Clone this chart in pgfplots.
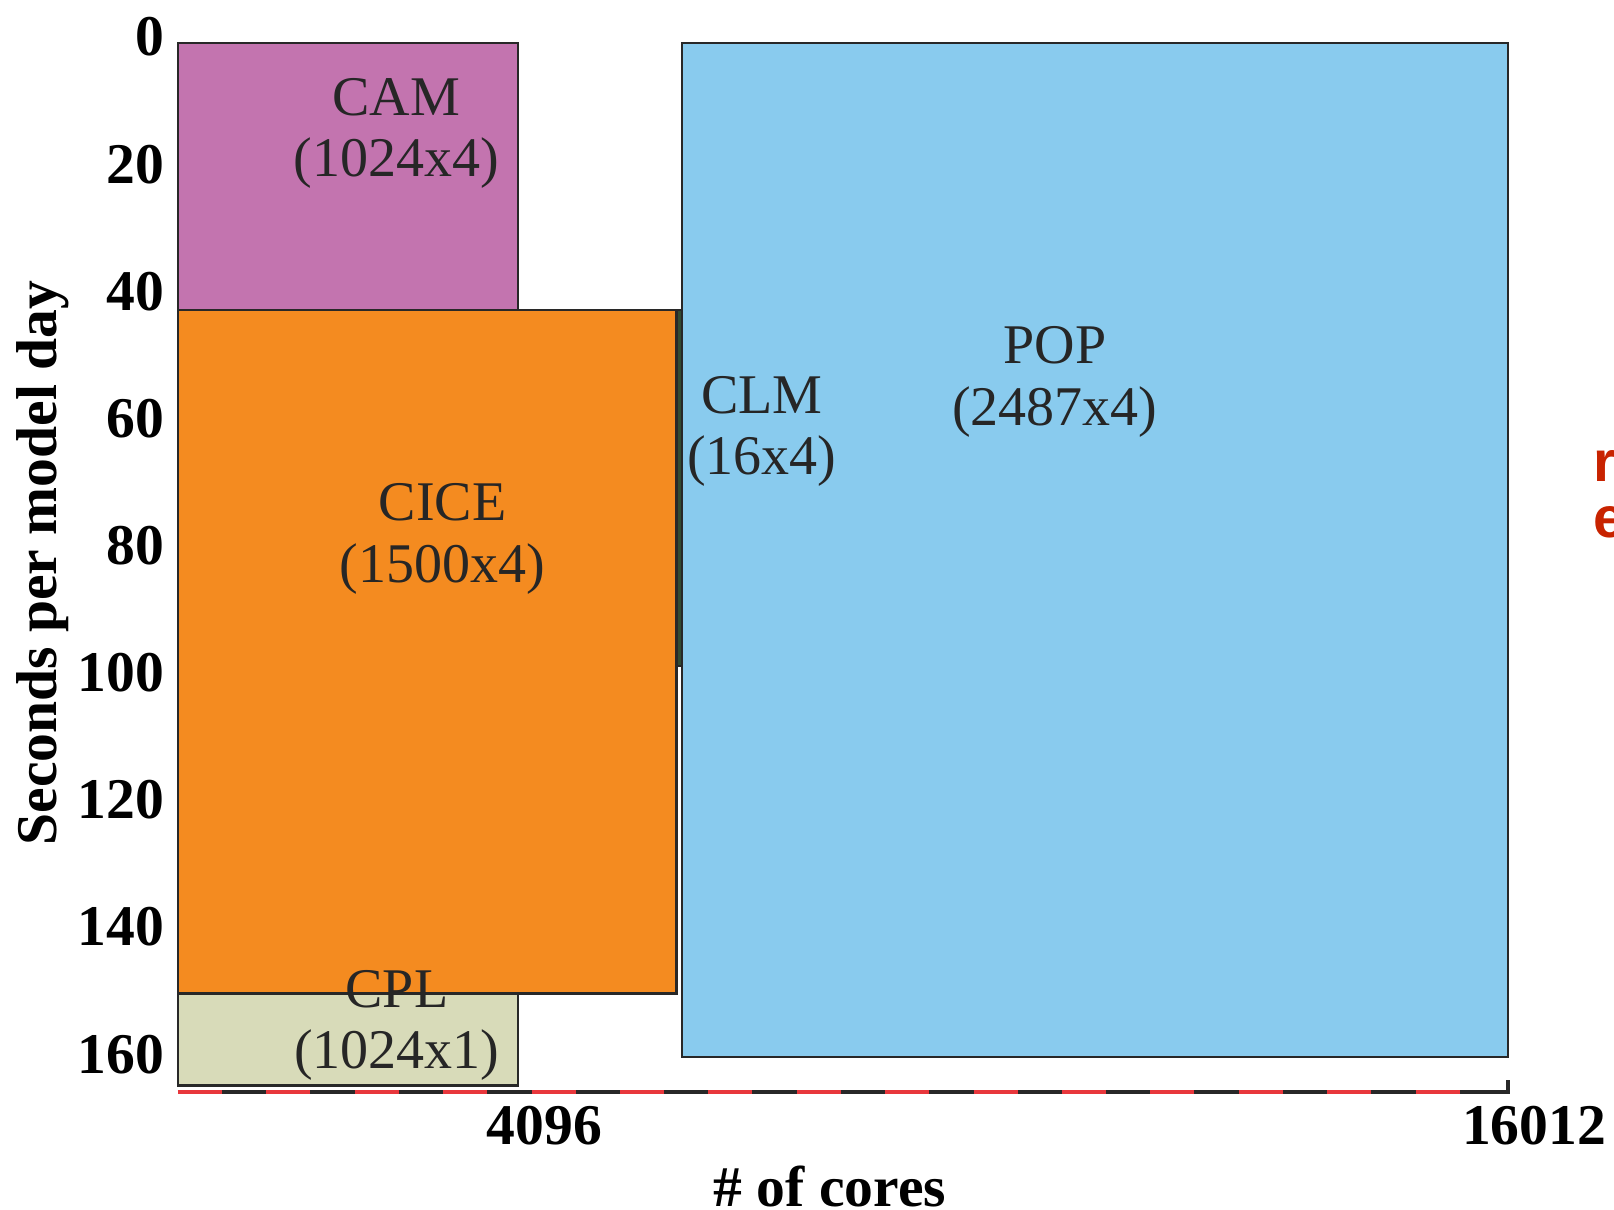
\documentclass[border=0pt]{standalone}
\usepackage{pgfplots}
\pgfplotsset{compat=1.18}
\usepackage{fontspec}
\setmainfont{Liberation Serif}
\newfontfamily\redsans{Liberation Sans}
\definecolor{camc}{RGB}{195,116,175}
\definecolor{cicec}{RGB}{244,139,32}
\definecolor{cplc}{RGB}{216,219,185}
\definecolor{popc}{RGB}{137,203,238}
\definecolor{clmc}{RGB}{50,75,50}
\definecolor{edgec}{RGB}{40,40,40}
\definecolor{redtxt}{RGB}{200,35,0}
\definecolor{reddash}{RGB}{232,55,60}
\begin{document}
\begin{tikzpicture}
\begin{axis}[
  scale only axis, width=332.5pt, height=262.25pt,
  xmin=0, xmax=16012, ymin=0, ymax=165, y dir=reverse,
  clip=false,
  axis line style={draw=none},
  major tick length=0pt,
  xtick={4096,16012}, ytick={0,20,...,160},
  scaled x ticks=false,
  /pgf/number format/assume math mode=true,
  /pgf/number format/set thousands separator={},
  ticklabel style={font=\fontsize{14.4}{14.4}\selectfont\bfseries},
  xticklabel style={xshift=6.5pt},
  yticklabel style={yshift=1.5pt},
  every axis plot/.append style={draw=edgec, line width=0.6pt, line join=miter},
]
\addplot[fill=camc] coordinates {(0,0) (4096,0) (4096,42) (0,42)} -- cycle;
\addplot[fill=cicec] coordinates {(0,42) (6000,42) (6000,149.5) (0,149.5)} -- cycle;
\addplot[fill=cplc] coordinates {(0,149.5) (4096,149.5) (4096,164) (0,164)} -- cycle;
\addplot[fill=popc] coordinates {(6064,0) (16012,0) (16012,159.5) (6064,159.5)} -- cycle;
\addplot[fill=clmc] coordinates {(6000,42) (6064,42) (6064,98) (6000,98)} -- cycle;
\draw[edgec, line width=0.9pt] (axis cs:0,165) -- (axis cs:16012,165) -- ++(0,3pt);
\draw[reddash, line width=0.9pt, dash pattern=on 11pt off 11.1pt] (axis cs:0,165) -- (axis cs:15600,165);
\begin{scope}[every node/.style={font=\fontsize{14}{15.3}\selectfont, align=center, text=black!85}]
\node at (axis cs:2625,14.2) {CAM\\(1024x4)};
\node at (axis cs:3186,78) {CICE\\(1500x4)};
\node at (axis cs:2636,154.5) {CPL\\(1024x1)};
\node at (axis cs:7027,61.1) {CLM\\(16x4)};
\node at (axis cs:10558,53.3) {POP\\(2487x4)};
\end{scope}
\coordinate (TL) at (axis description cs:0,1);
\coordinate (LM) at (axis description cs:0,0.5);
\end{axis}
\node[rotate=90, font=\fontsize{14.4}{14.4}\selectfont\bfseries] at ([shift={(-33.75pt,1.1pt)}]LM) {Seconds per model day};
\node[font=\fontsize{14.4}{14.4}\selectfont\bfseries] at ([shift={(163pt,-285.75pt)}]TL) {\# of cores};
\node[anchor=base west, inner sep=0pt, text=redtxt, font=\redsans\bfseries\fontsize{14.4}{14.4}\selectfont] at ([shift={(353.75pt,-109.75pt)}]TL) {re};
\node[anchor=base west, inner sep=0pt, text=redtxt, font=\redsans\bfseries\fontsize{14.4}{14.4}\selectfont] at ([shift={(353.75pt,-123.75pt)}]TL) {e};
\pgfresetboundingbox
\path ([shift={(-44.5pt,10.75pt)}]TL) rectangle ([shift={(359pt,-291.5pt)}]TL);
\end{tikzpicture}
\end{document}
